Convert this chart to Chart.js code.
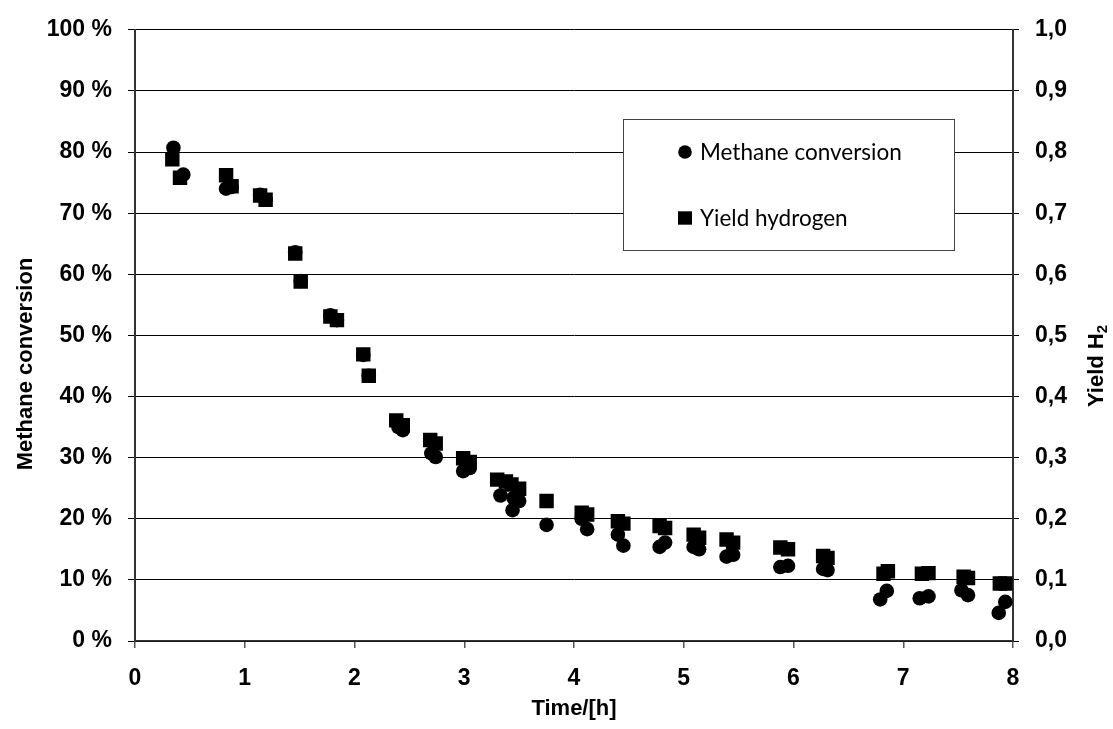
<!DOCTYPE html>
<html>
<head>
<meta charset="utf-8">
<script src="https://cdn.jsdelivr.net/npm/chart.js@4.4.1/dist/chart.umd.min.js"></script>
<style>
  html, body { margin: 0; padding: 0; background: #fff; }
  #wrap { width: 1113px; height: 729px; }
</style>
</head>
<body>
<div id="wrap"><canvas id="c" width="1113" height="729"></canvas></div>
<script>
// ---- data ----
const timeMethane = [0.35, 0.44, 0.83, 0.88, 1.14, 1.19, 1.46, 1.51, 1.78, 1.84, 2.08, 2.13, 2.40, 2.44, 2.70, 2.74, 2.99, 3.05, 3.33, 3.45, 3.44, 3.50, 3.75, 4.07, 4.12, 4.40, 4.45, 4.78, 4.83, 5.09, 5.14, 5.39, 5.45, 5.88, 5.95, 6.27, 6.31, 6.79, 6.85, 7.15, 7.23, 7.53, 7.59, 7.87, 7.93];
const methaneConversion = [80.7, 76.3, 74.0, 74.3, 73.0, 72.2, 63.6, 58.9, 53.3, 52.5, 46.8, 43.4, 35.0, 34.5, 30.7, 30.1, 27.8, 28.3, 23.8, 23.4, 21.4, 22.9, 19.0, 20.0, 18.3, 17.4, 15.6, 15.4, 16.1, 15.4, 15.0, 13.8, 14.1, 12.1, 12.3, 11.8, 11.6, 6.8, 8.2, 7.0, 7.3, 8.3, 7.5, 4.6, 6.4];
const timeYield = [0.34, 0.41, 0.83, 0.88, 1.14, 1.19, 1.46, 1.51, 1.78, 1.84, 2.08, 2.13, 2.38, 2.44, 2.69, 2.74, 2.99, 3.05, 3.30, 3.38, 3.43, 3.50, 3.75, 4.07, 4.12, 4.40, 4.45, 4.78, 4.83, 5.09, 5.14, 5.39, 5.45, 5.88, 5.95, 6.27, 6.31, 6.82, 6.86, 7.17, 7.23, 7.55, 7.59, 7.88, 7.93];
const yieldHydrogen = [0.788, 0.758, 0.762, 0.744, 0.729, 0.722, 0.634, 0.588, 0.531, 0.525, 0.469, 0.434, 0.361, 0.353, 0.329, 0.323, 0.299, 0.293, 0.264, 0.261, 0.256, 0.249, 0.229, 0.210, 0.207, 0.196, 0.192, 0.188, 0.185, 0.174, 0.169, 0.166, 0.161, 0.153, 0.150, 0.139, 0.136, 0.110, 0.114, 0.110, 0.111, 0.105, 0.103, 0.094, 0.094];

const xTickLabels = ['0', '1', '2', '3', '4', '5', '6', '7', '8'];
const leftTickLabels = ['0 %', '10 %', '20 %', '30 %', '40 %', '50 %', '60 %', '70 %', '80 %', '90 %', '100 %'];
const rightTickLabels = ['0,0', '0,1', '0,2', '0,3', '0,4', '0,5', '0,6', '0,7', '0,8', '0,9', '1,0'];

const seriesNames = ['Methane conversion', 'Yield hydrogen'];
const xTitle = 'Time/[h]';
const leftTitle = 'Methane conversion';
const rightTitleMain = 'Yield H';
const rightTitleSub = '2';

// ---- chart ----
const AXIS_FONT = '"Liberation Sans", Arial, sans-serif';
const tickFont = { family: AXIS_FONT, size: 23, weight: 'bold' };

const titlesPlugin = {
  id: 'titles',
  afterDraw(chart) {
    const ctx = chart.ctx;
    const ca = chart.chartArea;
    ctx.save();
    ctx.fillStyle = '#000';
    ctx.font = 'bold 22px ' + AXIS_FONT;
    ctx.textAlign = 'center';
    ctx.textBaseline = 'middle';
    ctx.fillText(xTitle, (ca.left + ca.right) / 2, 709);

    // left title
    ctx.save();
    ctx.translate(26, 364);
    ctx.rotate(-Math.PI / 2);
    ctx.fillText(leftTitle, 0, 0);
    ctx.restore();

    // right title with subscript
    ctx.save();
    ctx.translate(1097, 366);
    ctx.rotate(-Math.PI / 2);
    ctx.font = 'bold 22px ' + AXIS_FONT;
    const wMain = ctx.measureText(rightTitleMain).width;
    ctx.font = 'bold 15px ' + AXIS_FONT;
    const wSub = ctx.measureText(rightTitleSub).width;
    const total = wMain + wSub;
    ctx.textAlign = 'left';
    ctx.font = 'bold 22px ' + AXIS_FONT;
    ctx.fillText(rightTitleMain, -total / 2, 0);
    ctx.font = 'bold 15px ' + AXIS_FONT;
    ctx.fillText(rightTitleSub, -total / 2 + wMain, 6);
    ctx.restore();
    ctx.restore();
  }
};

const legendPlugin = {
  id: 'boxLegend',
  afterDraw(chart) {
    const ctx = chart.ctx;
    const box = { x: 623.5, y: 119.5, w: 331, h: 131 };
    ctx.save();
    ctx.fillStyle = '#fff';
    ctx.fillRect(box.x, box.y, box.w, box.h);
    ctx.strokeStyle = '#444';
    ctx.lineWidth = 1;
    ctx.strokeRect(box.x, box.y, box.w, box.h);

    // fit legend font so the first label spans ~202px
    let size = 22;
    ctx.font = size + 'px Lato, "Open Sans", sans-serif';
    const w = ctx.measureText(seriesNames[0]).width;
    size = size * 202 / w;
    ctx.font = size.toFixed(2) + 'px Lato, "Open Sans", sans-serif';
    ctx.fillStyle = '#000';
    ctx.textAlign = 'left';
    ctx.textBaseline = 'middle';

    const rows = [152, 218];
    chart.data.datasets.forEach((ds, i) => {
      const cy = rows[i];
      ctx.beginPath();
      if (ds.pointStyle === 'circle') {
        ctx.arc(685, cy, 6.8, 0, Math.PI * 2);
      } else {
        ctx.rect(685 - 7, cy - 6.7, 14, 13.4);
      }
      ctx.fill();
      ctx.fillText(ds.label, 700, cy + 1);
    });
    ctx.restore();
  }
};

new Chart(document.getElementById('c'), {
  type: 'scatter',
  data: {
    datasets: [
      {
        label: seriesNames[0],
        data: timeMethane.map((t, i) => ({ x: t, y: methaneConversion[i] })),
        yAxisID: 'yL',
        pointStyle: 'circle',
        pointRadius: 7.3,
        pointBackgroundColor: '#000',
        pointBorderWidth: 0,
        borderColor: '#000',
        backgroundColor: '#000'
      },
      {
        label: seriesNames[1],
        data: timeYield.map((t, i) => ({ x: t, y: yieldHydrogen[i] })),
        yAxisID: 'yR',
        pointStyle: 'rect',
        pointRadius: 10.2,
        pointBackgroundColor: '#000',
        pointBorderWidth: 0,
        borderColor: '#000',
        backgroundColor: '#000'
      }
    ]
  },
  options: {
    responsive: false,
    animation: false,
    events: [],
    layout: { padding: { top: 24, left: 0, right: 0, bottom: 0 } },
    plugins: {
      legend: { display: false },
      tooltip: { enabled: false },
      title: { display: false }
    },
    scales: {
      x: {
        type: 'linear',
        min: 0, max: 8,
        afterFit(s) { s.height = 88; },
        afterBuildTicks(s) { s.ticks = xTickLabels.map((_, i) => ({ value: i })); },
        ticks: {
          stepSize: 1,
          font: tickFont,
          color: '#000',
          padding: 17,
          callback: (v, i) => xTickLabels[i]
        },
        grid: { drawOnChartArea: false, drawTicks: true, tickLength: 7, color: '#555', lineWidth: 1.5 },
        border: { color: '#333', width: 1.5 }
      },
      yL: {
        type: 'linear',
        position: 'left',
        min: 0, max: 100,
        afterFit(s) { s.width = 135; },
        afterBuildTicks(s) { s.ticks = leftTickLabels.map((_, i) => ({ value: i * 10 })); },
        ticks: {
          stepSize: 10,
          font: tickFont,
          color: '#000',
          padding: 16,
          callback: (v, i) => leftTickLabels[i]
        },
        grid: { color: '#000', lineWidth: 1, tickLength: 7, drawTicks: true },
        border: { color: '#333', width: 2 }
      },
      yR: {
        type: 'linear',
        position: 'right',
        min: 0, max: 1,
        afterFit(s) { s.width = 100; },
        afterBuildTicks(s) { s.ticks = rightTickLabels.map((_, i) => ({ value: i / 10 })); },
        ticks: {
          stepSize: 0.1,
          font: tickFont,
          color: '#000',
          padding: 16,
          callback: (v, i) => rightTickLabels[i]
        },
        grid: { drawOnChartArea: false, color: '#000', lineWidth: 1, tickLength: 6, drawTicks: true },
        border: { color: '#333', width: 2 }
      }
    }
  },
  plugins: [titlesPlugin, legendPlugin]
});
</script>
</body>
</html>
